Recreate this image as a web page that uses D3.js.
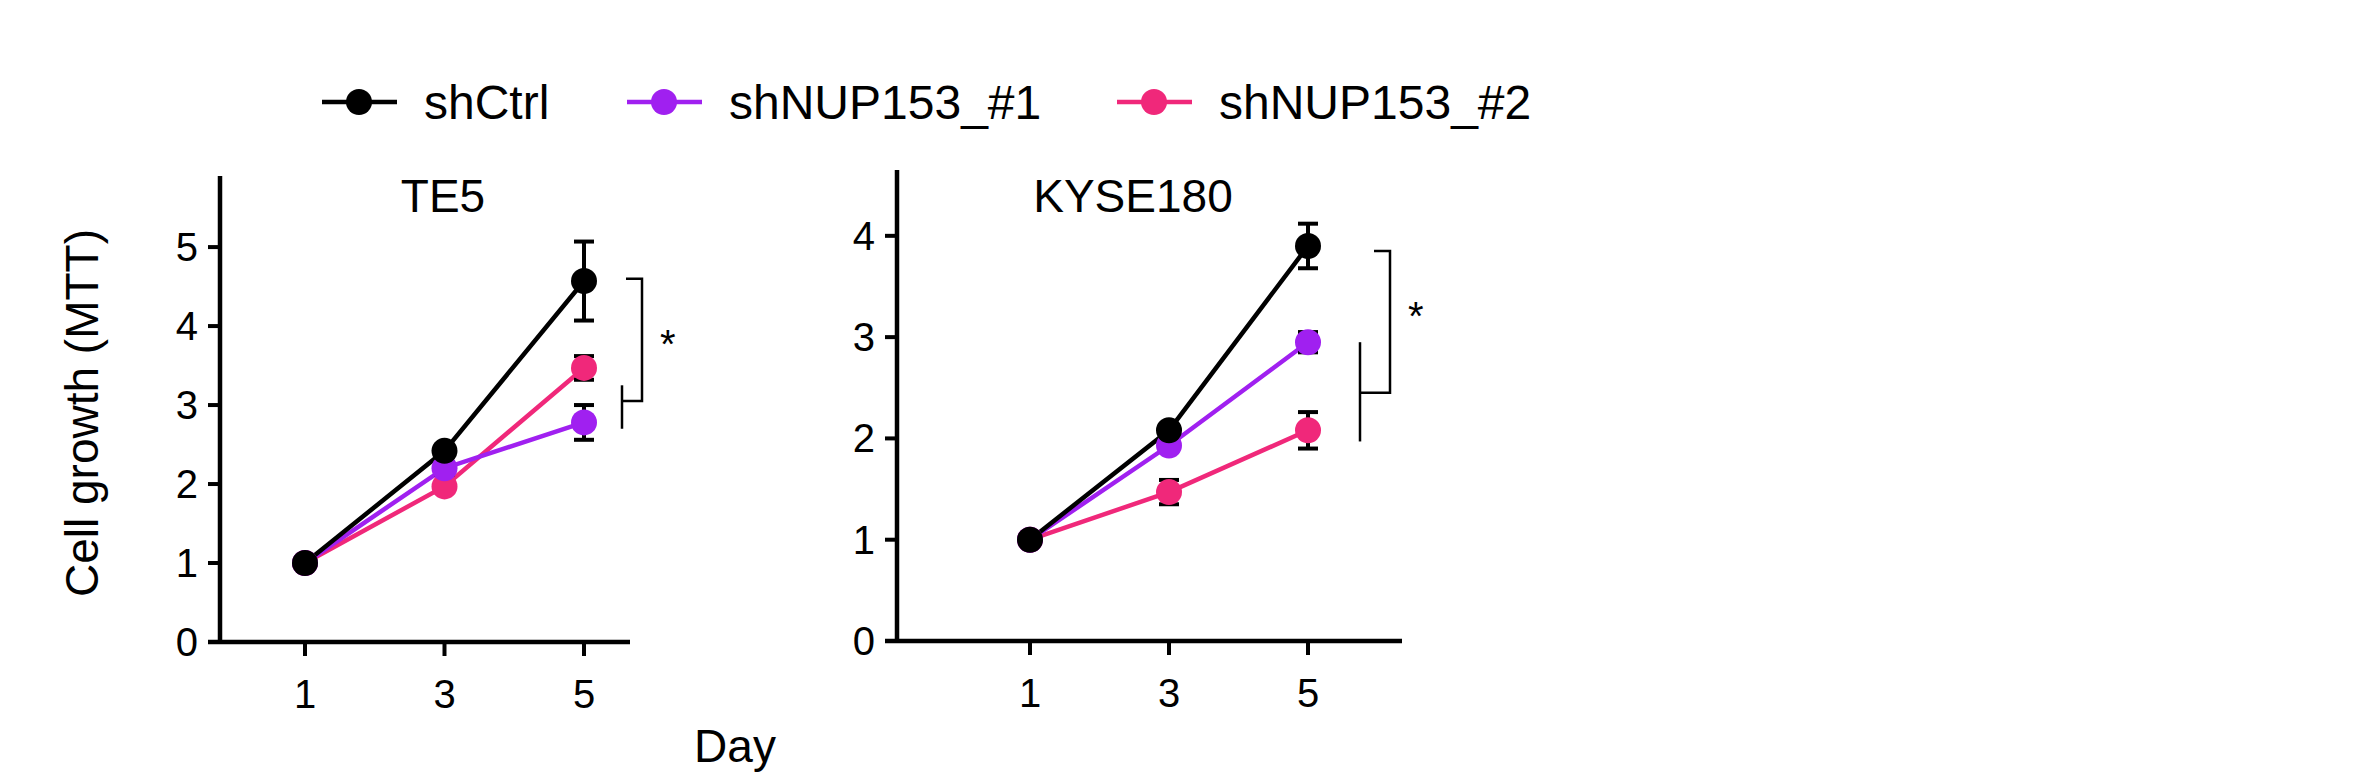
<!DOCTYPE html>
<html><head><meta charset="utf-8">
<script src="https://cdn.jsdelivr.net/npm/d3@7"></script>
<style>body{margin:0;background:#fff}text{font-family:Arial,"Liberation Sans",sans-serif}</style>
</head><body><svg id="c" width="2354" height="773"></svg>
<script>
var days = [1, 3, 5];
var series = ["shCtrl", "shNUP153_#1", "shNUP153_#2"];
var colors = ["#000000", "#a020f0", "#f0287a"];
var te5Mean = [[1, 2.42, 4.57], [1, 2.2, 2.78], [1, 1.97, 3.47]];
var te5Err = [[0.03, 0.08, 0.5], [0.03, 0.08, 0.22], [0.03, 0.06, 0.15]];
var kyMean = [[1, 2.08, 3.9], [1, 1.93, 2.95], [1, 1.47, 2.08]];
var kyErr = [[0.03, 0.06, 0.22], [0.03, 0.06, 0.1], [0.03, 0.12, 0.18]];

var svg = d3.select("#c");

function panel(o) {
  var g = svg.append("g");
  var x = d3.scaleLinear().domain([1, 5]).range([o.x1, o.x5]);
  var y = d3.scaleLinear().domain([0, o.ymax]).range([o.y0, o.ytop]);
  g.append("line").attr("x1", o.ax).attr("x2", o.ax).attr("y1", o.y0).attr("y2", o.ytop)
    .attr("stroke", "#000").attr("stroke-width", 4.5);
  g.append("line").attr("x1", o.ax - 12).attr("x2", o.xend).attr("y1", o.y0).attr("y2", o.y0)
    .attr("stroke", "#000").attr("stroke-width", 4.5);
  d3.range(0, Math.floor(o.ymax) + 1).forEach(function(t) {
    g.append("line").attr("x1", o.ax - 12).attr("x2", o.ax).attr("y1", y(t)).attr("y2", y(t))
      .attr("stroke", "#000").attr("stroke-width", 4);
    g.append("text").attr("x", o.ax - 22).attr("y", y(t)).attr("dy", "0.35em")
      .attr("text-anchor", "end").attr("font-size", 40).text(t);
  });
  days.forEach(function(d) {
    g.append("line").attr("x1", x(d)).attr("x2", x(d)).attr("y1", o.y0).attr("y2", o.y0 + 14)
      .attr("stroke", "#000").attr("stroke-width", 4);
    g.append("text").attr("x", x(d)).attr("y", o.y0 + 66).attr("text-anchor", "middle")
      .attr("font-size", 40).text(d);
  });
  g.append("text").attr("x", o.tx).attr("y", 212).attr("text-anchor", "middle")
    .attr("font-size", 46).text(o.title);
  var order = [2, 1, 0];
  order.forEach(function(s) {
    g.append("path").datum(days).attr("fill", "none").attr("stroke", colors[s]).attr("stroke-width", 4.5)
      .attr("d", d3.line().x(function(d) { return x(d); }).y(function(d, i) { return y(o.mean[s][i]); }));
  });
  order.forEach(function(s) {
    days.forEach(function(d, i) {
      var m = o.mean[s][i], e = o.err[s][i];
      if (i > 0) {
        g.append("line").attr("x1", x(d)).attr("x2", x(d)).attr("y1", y(m - e)).attr("y2", y(m + e))
          .attr("stroke", "#000").attr("stroke-width", 4);
        [m - e, m + e].forEach(function(v) {
          g.append("line").attr("x1", x(d) - 10).attr("x2", x(d) + 10).attr("y1", y(v)).attr("y2", y(v))
            .attr("stroke", "#000").attr("stroke-width", 4);
        });
      }
      g.append("circle").attr("cx", x(d)).attr("cy", y(m)).attr("r", 13).attr("fill", colors[s]);
    });
  });
  // significance brackets
  var b = o.br;
  g.append("path").attr("fill", "none").attr("stroke", "#000").attr("stroke-width", 2.5)
    .attr("d", "M" + (b.ox - 16) + "," + y(b.top) + "H" + b.ox + "V" + y(b.mid) + "H" + b.ix);
  g.append("path").attr("fill", "none").attr("stroke", "#000").attr("stroke-width", 2.5)
    .attr("d", "M" + b.ix + "," + y(b.itop) + "V" + y(b.ibot));
  g.append("text").attr("x", b.ox + 18).attr("y", y(b.star)).attr("dy", "0.7em")
    .attr("font-size", 40).text("*");
}

panel({ax: 220, y0: 642, ytop: 176, ymax: 5.9, x1: 305, x5: 584, xend: 630, tx: 443, title: "TE5",
  mean: te5Mean, err: te5Err,
  br: {ox: 642, ix: 622, top: 4.6, mid: 3.05, itop: 3.25, ibot: 2.7, star: 3.95}});
panel({ax: 897, y0: 641, ytop: 170, ymax: 4.65, x1: 1030, x5: 1308, xend: 1402, tx: 1133, title: "KYSE180",
  mean: kyMean, err: kyErr,
  br: {ox: 1390, ix: 1360, top: 3.85, mid: 2.45, itop: 2.95, ibot: 1.97, star: 3.35}});

svg.append("text").attr("transform", "translate(98,413) rotate(-90)").attr("text-anchor", "middle")
  .attr("font-size", 46).text("Cell growth (MTT)");
svg.append("text").attr("x", 735).attr("y", 762).attr("text-anchor", "middle")
  .attr("font-size", 46).text("Day");

var legX = [322, 627, 1117];
series.forEach(function(s, i) {
  var lg = svg.append("g").attr("transform", "translate(" + legX[i] + ",102)");
  lg.append("line").attr("x1", 0).attr("x2", 75).attr("stroke", colors[i]).attr("stroke-width", 4.5);
  lg.append("circle").attr("cx", 37).attr("r", 13).attr("fill", colors[i]);
  lg.append("text").attr("x", 102).attr("dy", "0.35em").attr("font-size", 48).text(s);
});
</script></body></html>
